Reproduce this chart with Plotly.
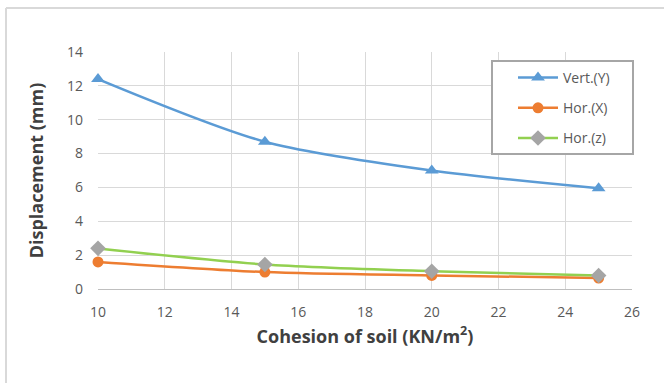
import plotly.graph_objects as go

cohesion = [10, 15, 20, 25]
vert_y = [12.4, 8.7, 7.0, 5.95]
hor_x = [1.6, 1.0, 0.8, 0.65]
hor_z = [2.4, 1.45, 1.05, 0.8]

W, H = 664, 383
L, R, T, B = 98, 32, 52, 94
pw, ph = W - L - R, H - T - B

fig = go.Figure()
fig.add_trace(go.Scatter(x=cohesion, y=vert_y, name="Vert.(Y)", mode="lines+markers",
                         line=dict(color="#5B9BD5", width=2.5, shape="spline", smoothing=0.8),
                         marker=dict(symbol="triangle-up", size=12, color="#5B9BD5"),
                         legendgroup="a", cliponaxis=False))
fig.add_trace(go.Scatter(x=cohesion, y=hor_x, name="Hor.(X)", mode="lines+markers",
                         line=dict(color="#ED7D31", width=2.5, shape="spline", smoothing=0.8),
                         marker=dict(symbol="circle", size=11, color="#ED7D31"),
                         legendgroup="b", cliponaxis=False))
fig.add_trace(go.Scatter(x=cohesion, y=hor_z, name="Hor.(z)", mode="lines+markers",
                         line=dict(color="#92D050", width=2.5, shape="spline", smoothing=0.8),
                         marker=dict(symbol="diamond", size=12, color="#A5A5A5"),
                         legendgroup="c", cliponaxis=False))

def px_x(p):
    return (p - L) / pw

def px_y(p):
    return (H - B - p) / ph

fig.update_layout(
    width=W, height=H,
    margin=dict(l=L, r=R, t=T, b=B),
    paper_bgcolor="white", plot_bgcolor="white",
    font=dict(family="Open Sans, Liberation Sans, sans-serif", color="#595959", size=14),
    showlegend=True,
    legend=dict(x=px_x(513), y=px_y(62), xanchor="left", yanchor="top",
                borderwidth=0, bgcolor="rgba(255,255,255,0)",
                font=dict(size=14, color="#595959"),
                traceorder="grouped", tracegroupgap=9,
                itemwidth=40),
    shapes=[
        dict(type="line", xref="paper", yref="paper", x0=px_x(6), x1=px_x(W), y0=px_y(8), y1=px_y(8),
             line=dict(color="#D9D9D9", width=2)),
        dict(type="line", xref="paper", yref="paper", x0=px_x(6), x1=px_x(6), y0=px_y(8), y1=px_y(H),
             line=dict(color="#D9D9D9", width=2)),
        dict(type="rect", xref="paper", yref="paper", layer="above",
             x0=px_x(492), x1=px_x(633), y0=px_y(154), y1=px_y(61),
             line=dict(color="#A6A6A6", width=2), fillcolor="white"),
    ],
)
fig.update_xaxes(range=[10, 26], dtick=2, tick0=10, showgrid=True, gridcolor="#D9D9D9", gridwidth=1,
                 showline=True, linecolor="#BFBFBF", linewidth=1, zeroline=False, ticks="",
                 ticklabelstandoff=10,
                 tickfont=dict(size=14, color="#595959"),
                 title=dict(text="<b>Cohesion of soil (KN/m<sup>2</sup>)</b>",
                            font=dict(size=18, color="#404040"), standoff=10))
fig.update_yaxes(range=[0, 14], dtick=2, showgrid=True, gridcolor="#D9D9D9", gridwidth=1,
                 showline=False, zeroline=False, ticks="",
                 ticklabelstandoff=14,
                 tickfont=dict(size=14, color="#595959"),
                 title=dict(text="<b>Displacement (mm)</b>",
                            font=dict(size=18, color="#404040"), standoff=18))

fig.write_html("out.html")
